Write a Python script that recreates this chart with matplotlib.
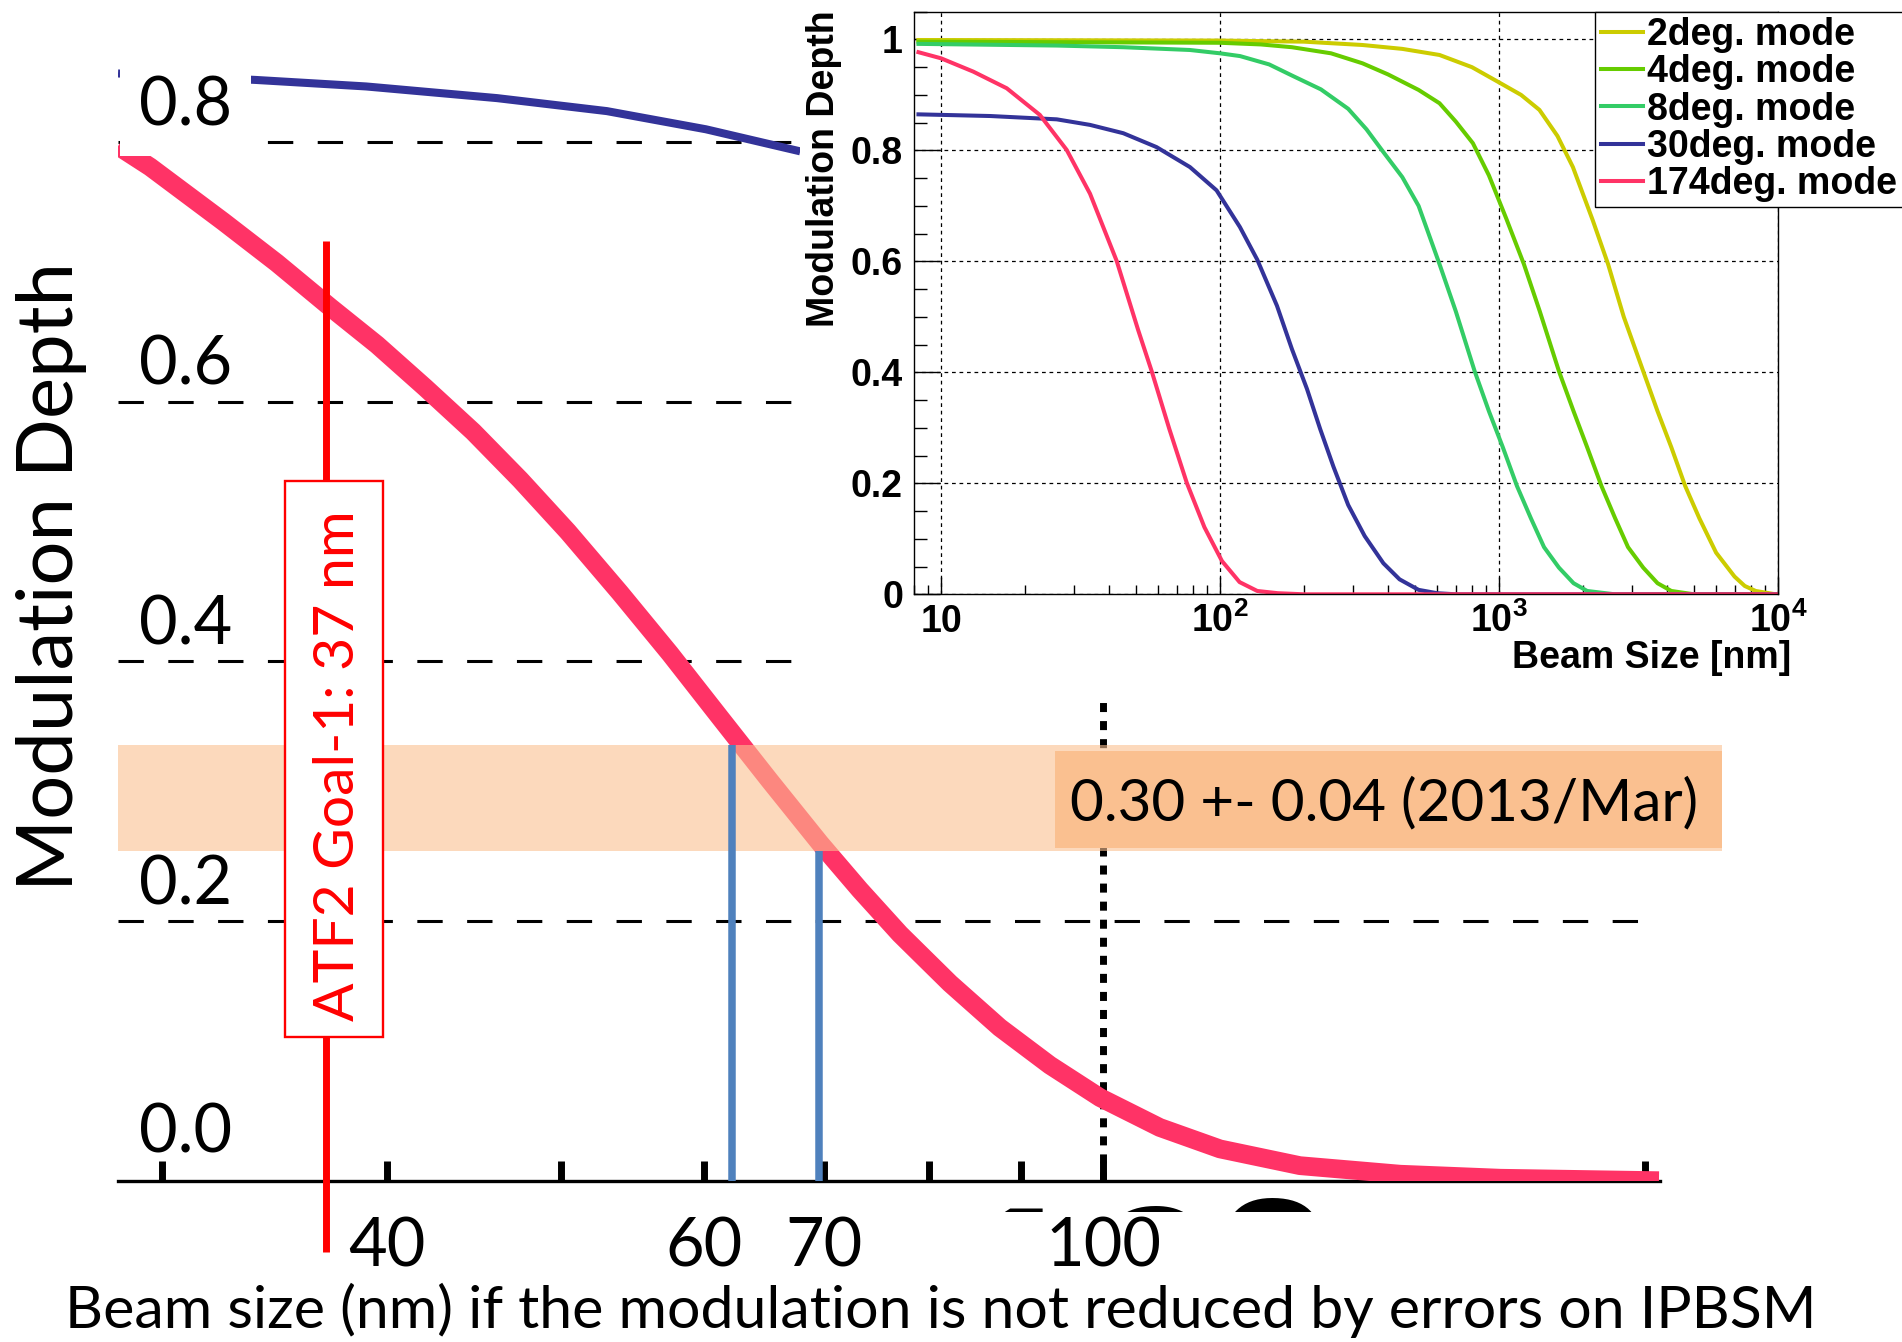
import matplotlib
matplotlib.use('Agg')
import matplotlib.pyplot as plt
from matplotlib.patches import Rectangle
from matplotlib.lines import Line2D
from matplotlib.transforms import Bbox, TransformedBbox, blended_transform_factory
from matplotlib.ticker import FixedLocator, NullLocator, NullFormatter, MultipleLocator, LogLocator

plt.rcParams['font.family'] = ['Lato', 'DejaVu Sans']
plt.rcParams['mathtext.fontset'] = 'custom'
plt.rcParams['mathtext.rm'] = 'Liberation Sans:bold'
plt.rcParams['mathtext.it'] = 'Liberation Sans:bold'
plt.rcParams['mathtext.bf'] = 'Liberation Sans:bold'

# ---- main plot (zoom on the 174 deg mode) ----
main_174_nm = [28.35, 29.54, 32.43, 34.74, 37.19, 39.49, 42.0, 44.66, 47.43, 50.41, 53.88, 57.45,
               61.23, 65.28, 69.6, 73.25, 77.1, 82.2, 87.6, 93.4, 99.6, 107.5, 116.1, 128.6,
               146.2, 166.2, 203.6]
main_174_md = [0.797, 0.781, 0.739, 0.707, 0.673, 0.644, 0.611, 0.577, 0.540, 0.500, 0.453, 0.406,
               0.357, 0.308, 0.260, 0.224, 0.190, 0.152, 0.118, 0.089, 0.064, 0.041, 0.0245, 0.0116,
               0.005, 0.0019, 0.0]
main_30_nm = [28.35, 33.83, 38.94, 46.05, 52.99, 60.15, 67.86]
main_30_md = [0.853, 0.848, 0.843, 0.834, 0.824, 0.810, 0.793]

main_xticks = [30, 40, 50, 60, 70, 80, 90, 100, 200]
main_xticklabels = ['', '40', '', '60', '70', '', '', '100', '']
main_ylevels = [0.0, 0.2, 0.4, 0.6, 0.8]

goal_nm = 37
band_lo, band_hi = 0.254, 0.336
meas_nm = [62.2, 69.5]
meas_text = '0.30 +- 0.04 (2013/Mar)'

# ---- inset: all modes ----
modes = ['2deg. mode', '4deg. mode', '8deg. mode', '30deg. mode', '174deg. mode']
mode_colors = ['#CCCC00', '#66CC00', '#33CC66', '#333399', '#FF3366']

nm_2 = [8.3, 100, 200, 324, 450, 612, 800, 1005, 1200, 1396, 1620, 1840, 2168, 2460, 2800, 3288,
        3700, 4146, 4650, 5225, 6000, 6984, 7600, 8320, 9800]
md_2 = [0.999, 0.998, 0.996, 0.990, 0.983, 0.972, 0.950, 0.922, 0.900, 0.873, 0.826, 0.770, 0.674,
        0.595, 0.500, 0.402, 0.330, 0.265, 0.195, 0.137, 0.075, 0.032, 0.015, 0.006, 0.0]
nm_4 = [8.3, 100, 140, 181, 250, 324, 400, 515, 612, 700, 806, 920, 1062, 1228, 1400, 1640, 1850,
        2070, 2330, 2608, 2900, 3288, 3700, 4146, 5000, 10000]
md_4 = [0.996, 0.994, 0.991, 0.986, 0.975, 0.957, 0.937, 0.909, 0.885, 0.852, 0.813, 0.755, 0.677,
        0.595, 0.510, 0.402, 0.330, 0.265, 0.195, 0.137, 0.085, 0.048, 0.020, 0.006, 0.0, 0.0]
nm_8 = [8.3, 26, 45, 78, 100, 118, 150, 181, 230, 288, 335, 385, 450, 515, 612, 700, 818, 920,
        1032, 1160, 1301, 1450, 1640, 1850, 2070, 2600, 10000]
md_8 = [0.992, 0.989, 0.986, 0.981, 0.975, 0.970, 0.955, 0.935, 0.910, 0.875, 0.838, 0.797, 0.752,
        0.700, 0.595, 0.510, 0.402, 0.330, 0.265, 0.195, 0.137, 0.085, 0.048, 0.020, 0.006, 0.0, 0.0]
nm_30 = [8.3, 15, 26, 34.2, 45, 59.2, 78, 97.2, 117.8, 136, 160, 181, 205, 228.5, 255, 288, 330,
         385, 440, 515, 600, 700, 10000]
md_30 = [0.865, 0.862, 0.856, 0.846, 0.831, 0.806, 0.770, 0.728, 0.662, 0.603, 0.520, 0.442, 0.370,
         0.298, 0.230, 0.161, 0.105, 0.056, 0.027, 0.008, 0.002, 0.0, 0.0]
nm_174 = [8.3, 10, 13.05, 17.2, 22.6, 28.2, 34.2, 42.6, 50.9, 56.9, 65.8, 76, 87.9, 101.6, 117.5,
          136, 161, 200, 10000]
md_174 = [0.977, 0.966, 0.942, 0.912, 0.864, 0.801, 0.722, 0.601, 0.476, 0.402, 0.298, 0.201, 0.121,
          0.060, 0.022, 0.006, 0.002, 0.0, 0.0]
mode_nm = [nm_2, nm_4, nm_8, nm_30, nm_174]
mode_md = [md_2, md_4, md_8, md_30, md_174]

in_xticks = [10, 100, 1000, 10000]
in_xticklabels = ['10', r'$10^{2}$', r'$10^{3}$', r'$10^{4}$']
in_yticks = [0, 0.2, 0.4, 0.6, 0.8, 1.0]
in_yticklabels = ['0', '0.2', '0.4', '0.6', '0.8', '1']

W, H = 1902, 1342


def fx(x):
    return x / W


def fy(y):
    return 1 - y / H


fig = plt.figure(figsize=(W / 100, H / 100), dpi=100)

# main axes
ax = fig.add_axes([fx(118), fy(1180.7), (1722 - 118) / W, 1180.7 / H])
ax.set_xscale('log')
ax.set_xlim(28.35, 220.7)
ax.set_ylim(0, 0.9096)
for s in ['left', 'top', 'right']:
    ax.spines[s].set_visible(False)
ax.spines['bottom'].set_linewidth(2.4)
ax.spines['bottom'].set_bounds(28.35, 204)
ax.set_xticks(main_xticks, main_xticklabels)
ax.xaxis.set_minor_locator(NullLocator())
ax.tick_params(axis='x', direction='in', length=14.4, width=5, pad=26, labelsize=48)
ax.set_yticks([])

for v in main_ylevels[1:]:
    ax.plot([28.35, 204], [v, v], color='black', lw=2.2, ls=(0, (8.3, 8)), zorder=1)
ax.plot([100, 100], [0, 0.9096], color='black', lw=5, ls=(0, (1.3, 1.3)), zorder=2)

ax.plot(main_30_nm, main_30_md, color='#333399', lw=5.8, solid_capstyle='butt', zorder=3)
ax.plot(main_174_nm, main_174_md, color='#FF3366', lw=13.5, solid_capstyle='butt',
        solid_joinstyle='round', zorder=3)

ax.axhspan(band_lo, band_hi, color='#FAC090', alpha=0.6, lw=0, zorder=4)
ax.vlines(meas_nm, 0, [band_hi, band_lo], colors='#4F81BD', lw=5.4, zorder=5)
ax.plot([goal_nm, goal_nm], [-0.055, 0.724], color='red', lw=5, solid_capstyle='butt',
        clip_on=False, zorder=5)

ytrans = ax.get_yaxis_transform()
for v in main_ylevels:
    off = 0.022 if v == 0 else 0.013
    t = ax.text(0.013, v + off, '%.1f' % v, transform=ytrans, fontsize=48,
                ha='left', va='baseline', zorder=7)
    if v == 0.8:
        t.set_bbox(dict(boxstyle='square,pad=0.28', fc='white', ec='none'))

# annotations
fig.add_artist(Rectangle((fx(285), fy(1037)), 98 / W, 556 / H, transform=fig.transFigure,
                         fc='white', ec='red', lw=1.7, zorder=1))
fig.text(fx(313), fy(766), 'ATF2 Goal-1: 37 nm', rotation=90, ha='left', va='center',
         color='red', fontsize=41, zorder=1.1)
fig.add_artist(Rectangle((fx(1055), fy(848)), (1722 - 1055) / W, 97 / H, transform=fig.transFigure,
                         fc='#FAC090', ec='none', zorder=1))
fig.text(fx(1384.5), fy(820), meas_text, ha='center', va='baseline', fontsize=42, zorder=1.1)

fig.text(fx(16), fy(576.5), 'Modulation Depth', rotation=90, ha='left', va='center', fontsize=56)
fig.text(fx(941), fy(1328), 'Beam size (nm) if the modulation is not reduced by errors on IPBSM',
         ha='center', va='baseline', fontsize=42.5)

# clipped leftover of a big "10 2" label under the 100 tick
clip = TransformedBbox(Bbox.from_extents(0, fy(1212), 1, 1), fig.transFigure)
for ch, x, y, size in [('1', 1019, 1199, 180), ('0', 1155, 1200, 180), ('2', 1273, 1192, 150)]:
    t = fig.text(fx(x), fy(y), ch, ha='center', va='top', fontsize=size,
                 fontfamily='Liberation Sans', fontweight='bold', zorder=1)
    t.set_clip_box(clip)
    t.set_clip_on(True)

# white background behind the inset
fig.add_artist(Rectangle((fx(800), fy(700)), (W - 800) / W, 700 / H, transform=fig.transFigure,
                         fc='white', ec='none', zorder=2))

# inset axes
ax_in = fig.add_axes([fx(914), fy(594.3), 864 / W, 582.6 / H], zorder=3)
ax_in.set_xscale('log')
ax_in.set_xlim(8.0, 1e4)
ax_in.set_ylim(0, 1.05)
for nm, md, c in zip(mode_nm, mode_md, mode_colors):
    ax_in.plot(nm, md, color=c, lw=2.9, solid_joinstyle='round')
for s in ax_in.spines.values():
    s.set_linewidth(1.0)

ax_in.xaxis.set_major_locator(FixedLocator(in_xticks))
ax_in.xaxis.set_minor_locator(LogLocator(base=10, subs=range(2, 10), numticks=20))
ax_in.xaxis.set_major_formatter(NullFormatter())
ax_in.xaxis.set_minor_formatter(NullFormatter())
ax_in.set_yticks(in_yticks)
ax_in.set_yticklabels(in_yticklabels, fontfamily='Liberation Sans', fontweight='bold', fontsize=27)
ax_in.yaxis.set_minor_locator(MultipleLocator(0.05))
ax_in.tick_params(axis='y', which='major', direction='in', length=18.7, width=1, pad=8, right=False)
ax_in.tick_params(axis='y', which='minor', direction='in', length=9.4, width=1, right=False)
ax_in.tick_params(axis='x', which='major', direction='in', length=12.6, width=1, top=False)
ax_in.tick_params(axis='x', which='minor', direction='in', length=6.5, width=1, top=False)
ax_in.grid(True, which='major', color='black', ls=(0, (3, 3)), lw=0.9)
ax_in.set_axisbelow(True)

xtrans = blended_transform_factory(ax_in.transData, ax_in.transAxes)
for v, s in zip(in_xticks, in_xticklabels):
    ax_in.text(v, -0.0647, s, transform=xtrans, ha='center', va='baseline', fontsize=27,
               fontfamily='Liberation Sans', fontweight='bold')
ax_in.text(1.015, -0.1265, 'Beam Size [nm]', transform=ax_in.transAxes, ha='right', va='baseline',
           fontsize=27, fontfamily='Liberation Sans', fontweight='bold')
ax_in.text(-0.125, 1.003, 'Modulation Depth', transform=ax_in.transAxes, rotation=90,
           ha='left', va='top', fontsize=27, fontfamily='Liberation Sans', fontweight='bold')

handles = [Line2D([], [], color=c, lw=2.9) for c in mode_colors]
leg = ax_in.legend(handles, modes, loc='upper left', bbox_to_anchor=(fx(1595), fy(11.7)),
                   bbox_transform=fig.transFigure, borderaxespad=0,
                   prop=dict(family='Liberation Sans', weight='bold', size=27),
                   handlelength=1.12, handletextpad=0.12, borderpad=0.15, labelspacing=0.03,
                   fancybox=False, edgecolor='black', framealpha=1)
leg.get_frame().set_linewidth(1.0)

fig.savefig('out.png', dpi=100)
